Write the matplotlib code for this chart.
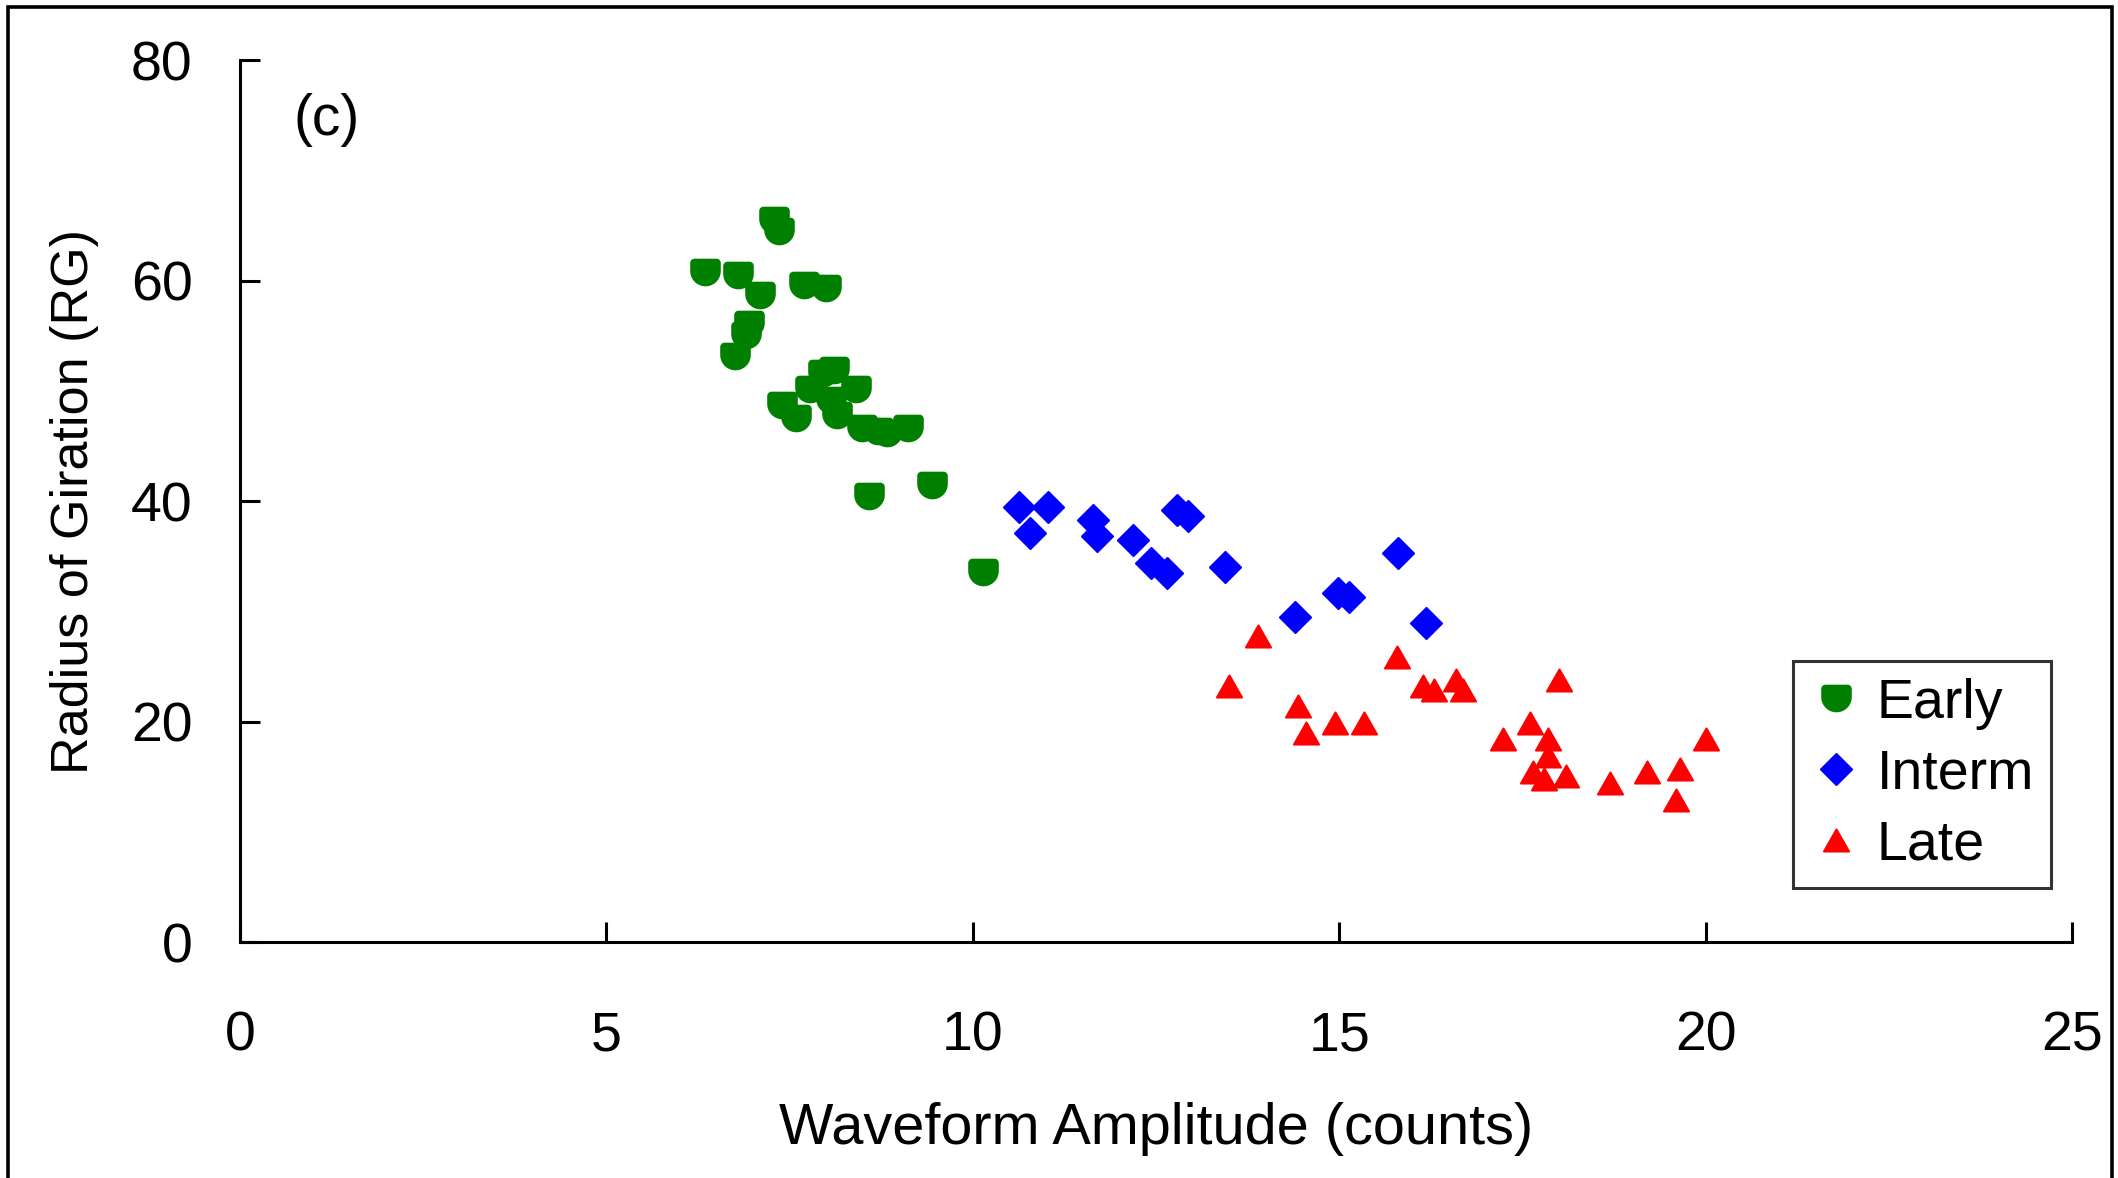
import numpy as np
import matplotlib
matplotlib.use('Agg')
import matplotlib.pyplot as plt
from matplotlib.path import Path
from matplotlib.markers import MarkerStyle
from matplotlib.patches import Rectangle

plt.rcParams['font.family'] = ['Liberation Sans', 'DejaVu Sans']

# data
early_x = [7.29, 7.35, 6.34, 6.79, 7.10, 7.69, 8.00, 6.95, 6.90, 6.75, 8.10, 7.95,
           8.40, 7.78, 8.06, 8.15, 7.40, 7.59, 8.49, 8.83, 8.71, 9.11, 8.59, 9.45, 10.14]
early_y = [65.5, 64.5, 60.8, 60.5, 58.7, 59.6, 59.3, 56.1, 55.1, 53.2, 51.9, 51.6,
           50.2, 50.2, 49.2, 47.8, 48.7, 47.5, 46.6, 46.2, 46.4, 46.6, 40.5, 41.5, 33.6]

interm_x = [10.63, 11.03, 10.78, 11.64, 11.69, 12.18, 12.43, 12.65, 12.79, 12.93,
            13.44, 14.39, 14.98, 15.14, 15.80, 16.19]
interm_y = [39.5, 39.5, 37.1, 38.3, 36.8, 36.5, 34.4, 33.5, 39.2, 38.6,
            34.0, 29.5, 31.7, 31.3, 35.3, 28.9]

late_x = [13.89, 13.49, 15.79, 14.44, 14.54, 14.94, 15.34, 16.14, 16.29, 16.59, 16.69,
          18.00, 17.60, 17.24, 17.85, 17.85, 17.64, 17.80, 18.10, 18.70, 19.20, 19.65,
          19.60, 20.00]
late_y = [27.75, 23.2, 25.9, 21.4, 19.0, 19.9, 19.9, 23.2, 22.9, 23.8, 22.9,
          23.8, 19.9, 18.4, 18.4, 16.9, 15.4, 14.8, 15.1, 14.45, 15.4, 15.7,
          12.9, 18.4]

x_ticks = [0, 5, 10, 15, 20, 25]
y_ticks = [0, 20, 40, 60, 80]

# marker shapes: flat-topped "cup" and a slightly squat triangle
th = np.linspace(np.pi, 2 * np.pi, 40)
bottom = np.column_stack([np.cos(th), np.sin(th) + 0.1])
a1 = np.linspace(0, np.pi / 2, 10)
right_corner = np.column_stack([0.75 + 0.25 * np.cos(a1), 0.65 + 0.25 * np.sin(a1)])
a2 = np.linspace(np.pi / 2, np.pi, 10)
left_corner = np.column_stack([-0.75 + 0.25 * np.cos(a2), 0.65 + 0.25 * np.sin(a2)])
cup_verts = np.vstack([bottom, right_corner, left_corner, bottom[:1]])
cup = MarkerStyle(Path(cup_verts, closed=True), joinstyle='round')
tri = MarkerStyle(Path([(0, 0.88), (-1, -0.88), (1, -0.88), (0, 0.88)], closed=True),
                  joinstyle='round')

fig = plt.figure(figsize=(21.18, 11.78), dpi=100)
ax = fig.add_axes([0.1133, 0.2003, 0.865, 0.7487])

ax.plot(early_x, early_y, linestyle='none', marker=cup, markersize=21,
        color='#008000', markeredgewidth=1, label='Early')
ax.plot(interm_x, interm_y, linestyle='none', marker='D', markersize=16,
        color='#0000FF', markeredgewidth=1, label='Interm')
ax.plot(late_x, late_y, linestyle='none', marker=tri, markersize=18,
        color='#FF0000', markeredgewidth=1.5, label='Late')

ax.set_xlim(0, 25)
ax.set_ylim(0, 80)
ax.set_xticks(x_ticks)
ax.set_yticks(y_ticks)

ax.spines['top'].set_visible(False)
ax.spines['right'].set_visible(False)
ax.spines['left'].set_linewidth(2.2)
ax.spines['bottom'].set_linewidth(2.2)
ax.tick_params(direction='in', length=14.5, width=2.2, labelsize=40)
ax.tick_params(axis='y', pad=34)
ax.tick_params(axis='x', pad=49)

ax.set_xlabel('Waveform Amplitude (counts)', fontsize=41.5, labelpad=29)
ax.set_ylabel('Radius of Giration (RG)', fontsize=37.5)
ax.yaxis.set_label_coords(-0.077, 0.5)

ax.text(0.0475, 0.932, '(c)', transform=ax.transAxes, fontsize=41,
        ha='center', va='center')

leg = ax.legend(loc='lower right', bbox_to_anchor=(0.9885, 0.0612), fontsize=40,
                frameon=True, fancybox=False, numpoints=1, handlelength=0.95,
                handletextpad=0.26, borderpad=0.3, labelspacing=0.34,
                borderaxespad=0)
leg.get_frame().set_edgecolor('black')
leg.get_frame().set_linewidth(2.2)

# outer frame around the whole picture
fig.patches.append(Rectangle((8 / 2118, -0.05), (2112 - 8) / 2118, 1.05 - 7 / 1178,
                             transform=fig.transFigure, fill=False,
                             edgecolor='black', linewidth=2.6))

plt.savefig('out.png', dpi=100)
